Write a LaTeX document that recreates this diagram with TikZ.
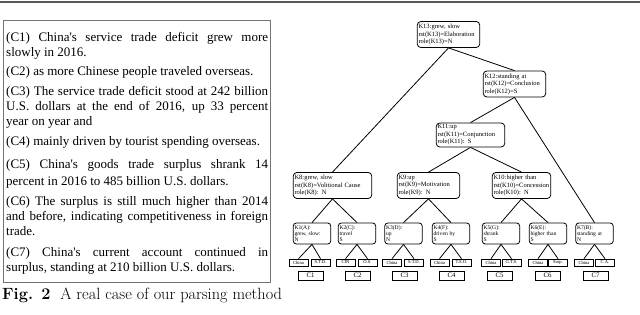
\documentclass[tikz,border=0pt]{standalone}
\usepackage{fontspec}
\newfontfamily\tnr{Liberation Serif}
\begin{document}
\begin{tikzpicture}[x=1pt,y=-1pt,
  knode/.style={draw, rounded corners=3.5pt, line width=0.8pt, align=left, inner sep=1.2pt, text width=#1, minimum height=26pt, font=\tnr\fontsize{6.5}{7.5}\selectfont},
  leaf/.style={draw, rounded corners=3pt, line width=0.8pt, align=left, inner sep=1.2pt, text width=35pt, minimum height=21pt, font=\tnr\fontsize{5.6}{6.2}\selectfont},
  sbox/.style={draw, line width=0.6pt, inner sep=0pt, minimum width=19pt, minimum height=7pt, font=\tnr\fontsize{4.6}{4.6}\selectfont},
  cbox/.style={draw, line width=0.6pt, inner sep=0pt, minimum width=25pt, minimum height=9pt, font=\tnr\fontsize{6.8}{6.8}\selectfont},
  edge/.style={line width=0.8pt},
  tline/.style={anchor=base west, inner sep=0pt, font=\tnr\fontsize{13}{15}\selectfont}
]
\useasboundingbox (0,0) rectangle (640,315);
% top rule
\draw[line width=1.2pt, black!65] (0,2) -- (640,2);
% text panel
\draw[line width=0.7pt, black!55] (3.5,20) rectangle (270,282);
\node[tline] (l1) at (6,42) {\makebox[262pt][s]{(C1) China's service trade deficit grew more}};
\node[tline] (l2) at (6,57) {slowly in 2016.};
\node[tline] (l3) at (6,76) {(C2) as more Chinese people traveled overseas.};
\node[tline] (l4) at (6,96) {\makebox[262pt][s]{(C3) The service trade deficit stood at 242 billion}};
\node[tline] (l5) at (6,111) {\makebox[262pt][s]{U.S. dollars at the end of 2016, up 33 percent}};
\node[tline] (l6) at (6,126) {year on year and};
\node[tline] (l7) at (6,146) {(C4) mainly driven by tourist spending overseas.};
\node[tline] (l8) at (6,169) {\makebox[262pt][s]{(C5) China's goods trade surplus shrank 14}};
\node[tline] (l9) at (6,186) {percent in 2016 to 485 billion U.S. dollars.};
\node[tline] (l10) at (6,206) {\makebox[262pt][s]{(C6) The surplus is still much higher than 2014}};
\node[tline] (l11) at (6,221) {\makebox[262pt][s]{and before, indicating competitiveness in foreign}};
\node[tline] (l12) at (6,236) {trade.};
\node[tline] (l13) at (6,256) {\makebox[262pt][s]{(C7) China's current account continued in}};
\node[tline] (l14) at (6,271) {surplus, standing at 210 billion U.S. dollars.};
% caption
\node[anchor=base west, inner sep=0pt, font=\fontsize{16.3}{18}\selectfont] (cap) at (2,299) {\textbf{Fig. 2}\ \ A real case of our parsing method};
% tree internal nodes
\node[knode=60pt] (K13) at (448.5,34.5) {K13:grew, slow\\rst(K13)=Elaboration\\role(K13)=N};
\node[knode=60pt] (K12) at (514.5,84) {K12:standing at\\rst(K12)=Conclusion\\role(K12)=S};
\node[knode=66pt, minimum height=24pt] (K11) at (470.5,135) {K11:up\\rst(K11)=Conjunction\\role(K11): S};
\node[knode=76pt] (K8) at (332.5,185.5) {K8:grew, slow\\rst(K8)=Volitional Cause\\role(K8): N};
\node[knode=60pt] (K9) at (428.5,185.5) {K9:up\\rst(K9)=Motivation\\role(K9): N};
\node[knode=56pt] (K10) at (521.5,185.5) {K10:higher than\\rst(K10)=Concession\\role(K10): N};
% leaves
\node[leaf] (K1) at (312,233.5) {K1(A):\\grew, slow:\\N};
\node[leaf] (K2) at (357,233.5) {K2(C):\\travel\\S};
\node[leaf] (K3) at (403.5,233.5) {K3(D):\\up\\N};
\node[leaf] (K4) at (451,233.5) {K4(F):\\driven by\\S};
\node[leaf] (K5) at (501,233.5) {K5(G):\\shrank\\S};
\node[leaf] (K6) at (548,233.5) {K6(E):\\higher than\\S};
\node[leaf] (K7) at (594.5,233.5) {K7(B):\\standing at\\N};
% small boxes
\node[sbox] (a1) at (298.5,262.5) {China};
\node[sbox] (b1) at (320.5,262.5) {S.T.D.};
\node[sbox] (a2) at (345.5,262.5) {CIN};
\node[sbox] (b2) at (367.5,262.5) {O.S.};
\node[sbox] (a3) at (392,262.5) {China};
\node[sbox] (b3) at (414,262.5) {S.T.D.};
\node[sbox] (a4) at (439.5,262.5) {China};
\node[sbox] (b4) at (461.5,262.5) {T.S.O.};
\node[sbox] (a5) at (491,262.5) {China};
\node[sbox] (b5) at (511.5,262.5) {G.T.S.};
\node[sbox] (a6) at (538,262.5) {China};
\node[sbox] (b6) at (558,262.5) {Surp.};
\node[sbox] (a7) at (584,262.5) {China};
\node[sbox] (b7) at (605,262.5) {C.A.};
% C boxes
\node[cbox] (c1) at (310.5,275.5) {C1};
\node[cbox] (c2) at (357.5,275.5) {C2};
\node[cbox] (c3) at (404.5,275.5) {C3};
\node[cbox] (c4) at (451.5,275.5) {C4};
\node[cbox] (c5) at (499.5,275.5) {C5};
\node[cbox] (c6) at (547.5,275.5) {C6};
\node[cbox] (c7) at (595.5,275.5) {C7};
% edges
\draw[edge] (K13.south) -- (K8.north);
\draw[edge] (K13.south) -- (K12.north);
\draw[edge] (K12.south) -- (K11.north);
\draw[edge] (K12.south) -- (K7.north);
\draw[edge] (K11.south) -- (K9.north);
\draw[edge] (K11.south) -- (K10.north);
\draw[edge] (K8.south) -- (K1.north);
\draw[edge] (K8.south) -- (K2.north);
\draw[edge] (K9.south) -- (K3.north);
\draw[edge] (K9.south) -- (K4.north);
\draw[edge] (K10.south) -- (K5.north);
\draw[edge] (K10.south) -- (K6.north);
\foreach \i in {1,...,7} {
  \draw[edge] (K\i.south) -- (a\i.north);
  \draw[edge] (K\i.south) -- (b\i.north);
}
\end{tikzpicture}
\end{document}
